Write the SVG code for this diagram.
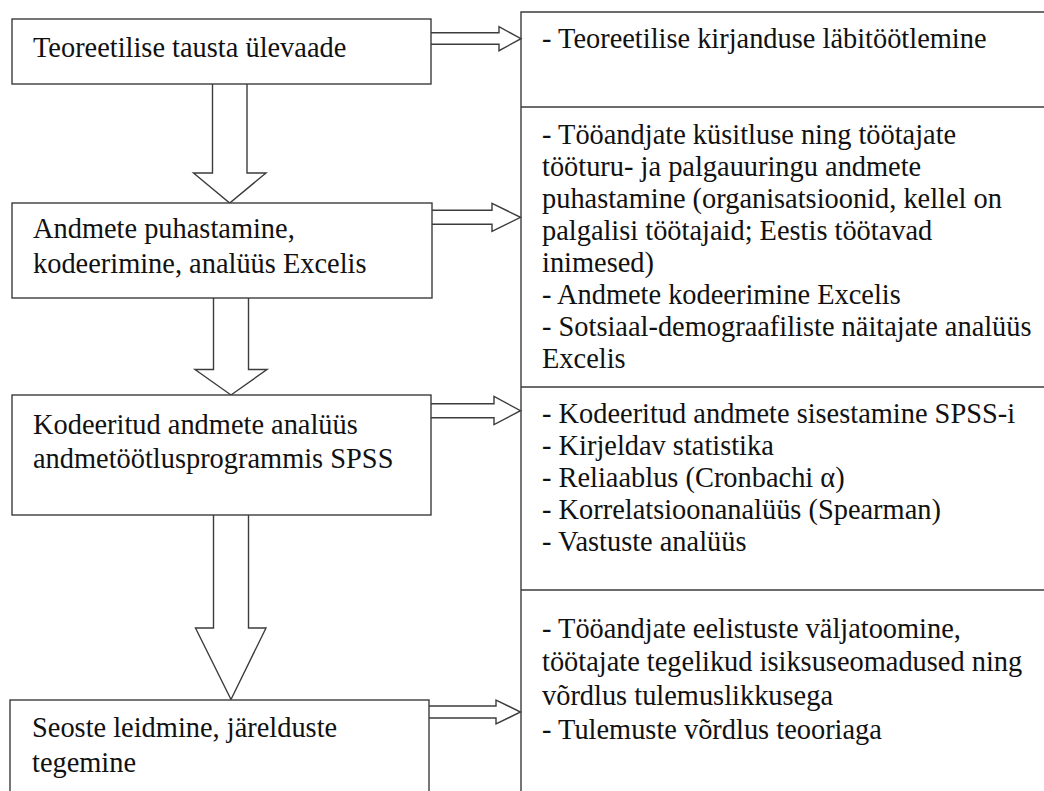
<svg xmlns="http://www.w3.org/2000/svg" width="1044" height="791" viewBox="0 0 1044 791">
<style>
.box{fill:#fff;stroke:#3c3c3c;stroke-width:1.4}
.line{fill:none;stroke:#3c3c3c;stroke-width:1.4}
.arr{fill:#fff;stroke:#3c3c3c;stroke-width:1.4;stroke-linejoin:miter}
</style>
<rect width="1044" height="791" fill="#fff"/>
<g id="right-panel">
<path class="line" d="M1050,12 H521 V800"/>
<path class="line" d="M521,107 H1050 M521,387 H1050 M521,590 H1050"/>
</g>
<g id="connectors">
<path class="arr" d="M212.5,84 V173 H193.5 L229.7,203 L266,173 H247 V84"/>
<path class="arr" d="M213.5,298 V369.5 H195 L231,395 L267,369.5 H248.5 V298"/>
<path class="arr" d="M213.5,515 V628 H195.5 L231,699.5 L266,628 H248.5 V515"/>
<path class="arr" d="M431,32.7 H499 V26.7 L521,38.7 L499,50.7 V44.3 H431"/>
<path class="arr" d="M432,210.3 H492 V203.3 L520.5,217.3 L492,231.3 V224.3 H432"/>
<path class="arr" d="M431,403.7 H494 V396.5 L520.5,410.7 L494,424.5 V417.7 H431"/>
<path class="arr" d="M429,706 H496 V700 L520.5,712 L496,724 V718 H429"/>
</g>
<g font-family="Liberation Serif, Times New Roman, serif" font-size="28.4" fill="#111">
<g id="n1">
<rect class="box" x="12" y="19" width="419" height="65"/>
<text x="33" y="57">Teoreetilise tausta ülevaade</text>
</g>
<g id="n2">
<rect class="box" x="12" y="203" width="420" height="95"/>
<text x="33" y="238">Andmete puhastamine,</text>
<text x="33" y="273">kodeerimine, analüüs Excelis</text>
</g>
<g id="n3">
<rect class="box" x="12" y="395" width="419" height="120"/>
<text x="33" y="434">Kodeeritud andmete analüüs</text>
<text x="33" y="468">andmetöötlusprogrammis SPSS</text>
</g>
<g id="n4">
<rect class="box" x="10" y="700" width="419" height="110"/>
<text x="32" y="737">Seoste leidmine, järelduste</text>
<text x="32" y="772">tegemine</text>
</g>
<g id="r1">
<text x="542" y="48">- Teoreetilise kirjanduse läbitöötlemine</text>
</g>
<g id="r2">
<text x="542" y="144">- Tööandjate küsitluse ning töötajate</text>
<text x="542" y="176">tööturu- ja palgauuringu andmete</text>
<text x="542" y="208">puhastamine (organisatsioonid, kellel on</text>
<text x="542" y="240">palgalisi töötajaid; Eestis töötavad</text>
<text x="542" y="272">inimesed)</text>
<text x="542" y="304">- Andmete kodeerimine Excelis</text>
<text x="542" y="336">- Sotsiaal-demograafiliste näitajate analüüs</text>
<text x="542" y="368">Excelis</text>
</g>
<g id="r3">
<text x="542" y="423">- Kodeeritud andmete sisestamine SPSS-i</text>
<text x="542" y="455">- Kirjeldav statistika</text>
<text x="542" y="487">- Reliaablus (Cronbachi α)</text>
<text x="542" y="519">- Korrelatsioonanalüüs (Spearman)</text>
<text x="542" y="551">- Vastuste analüüs</text>
</g>
<g id="r4">
<text x="542" y="638">- Tööandjate eelistuste väljatoomine,</text>
<text x="542" y="671">töötajate tegelikud isiksuseomadused ning</text>
<text x="542" y="705">võrdlus tulemuslikkusega</text>
<text x="542" y="739">- Tulemuste võrdlus teooriaga</text>
</g>
</g>
</svg>
